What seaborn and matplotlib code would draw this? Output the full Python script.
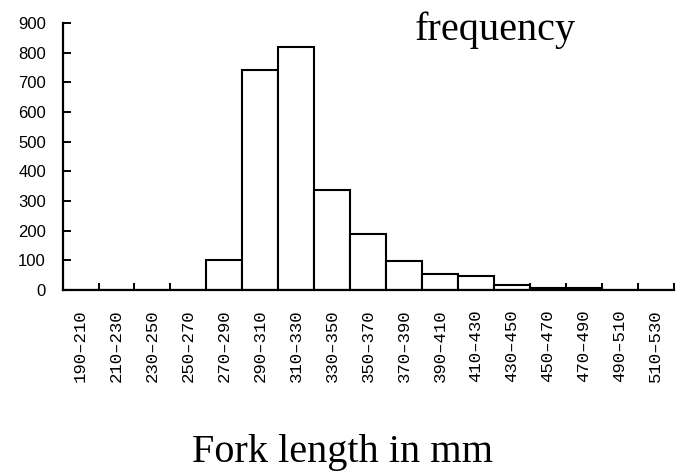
#!/usr/bin/env python3

import matplotlib
matplotlib.use('Agg')
import matplotlib.pyplot as plt
import pandas as pd
import seaborn as sns


BIN_STARTS = [190, 210, 230, 250, 270, 290, 310, 330, 350,
              370, 390, 410, 430, 450, 470, 490, 510]
BIN_LABELS = [f'{b}–{b + 20}' for b in BIN_STARTS]
COUNTS = [0, 0, 0, 0, 100, 743, 818, 338, 189,
          99, 54, 46, 16, 7, 6, 0, 0]
YTICKS = [0, 100, 200, 300, 400, 500, 600, 700, 800, 900]


def main():
    df = pd.DataFrame({'bin': BIN_LABELS, 'count': COUNTS})

    sns.set_theme(style='white')
    plt.rcParams['font.family'] = ['Liberation Serif', 'DejaVu Serif']
    plt.rcParams['text.color'] = 'black'
    plt.rcParams['xtick.color'] = 'black'
    plt.rcParams['ytick.color'] = 'black'

    fig = plt.figure(figsize=(6.8, 4.71), dpi=100)
    ax = fig.add_axes([0.092, 0.384, 0.899, 0.567])

    sns.barplot(ax=ax, data=df, x='bin', y='count', width=1.0,
                color='white', edgecolor='black', linewidth=1.5,
                saturation=1)

    ax.set_xlim(-0.5, len(BIN_LABELS) - 0.5)
    ax.set_ylim(0, 900)
    ax.set_yticks(YTICKS)
    ax.set_yticklabels([str(y) for y in YTICKS], family='Liberation Sans',
                       fontsize=12)
    ax.set_xticks(range(len(BIN_LABELS)))
    ax.set_xticklabels(BIN_LABELS, rotation=90, family='Liberation Mono',
                       fontsize=12.5)
    # boundaries between classes get small inward ticks
    ax.set_xticks([i + 0.5 for i in range(len(BIN_LABELS))], minor=True)
    ax.tick_params(axis='x', which='major', length=0, pad=14,
                   labelcolor='black')
    ax.tick_params(axis='x', which='minor', direction='in', length=5,
                   width=1.4, color='black', bottom=True)
    ax.tick_params(axis='y', direction='in', length=6, width=1.4,
                   color='black', labelcolor='black', left=True, pad=12)
    ax.set_xlabel('')
    ax.set_ylabel('')

    for side in ('top', 'right'):
        ax.spines[side].set_visible(False)
    for side in ('left', 'bottom'):
        ax.spines[side].set_color('black')
        ax.spines[side].set_linewidth(1.6)

    fig.text(415 / 680, 1 - 40 / 471, 'frequency', fontsize=29,
             color='black', ha='left', va='baseline')
    fig.text(342 / 680, 1 - 462 / 471, 'Fork length in mm', fontsize=29,
             color='black', ha='center', va='baseline')

    fig.savefig('out.png', dpi=100)


if __name__ == '__main__':
    main()
